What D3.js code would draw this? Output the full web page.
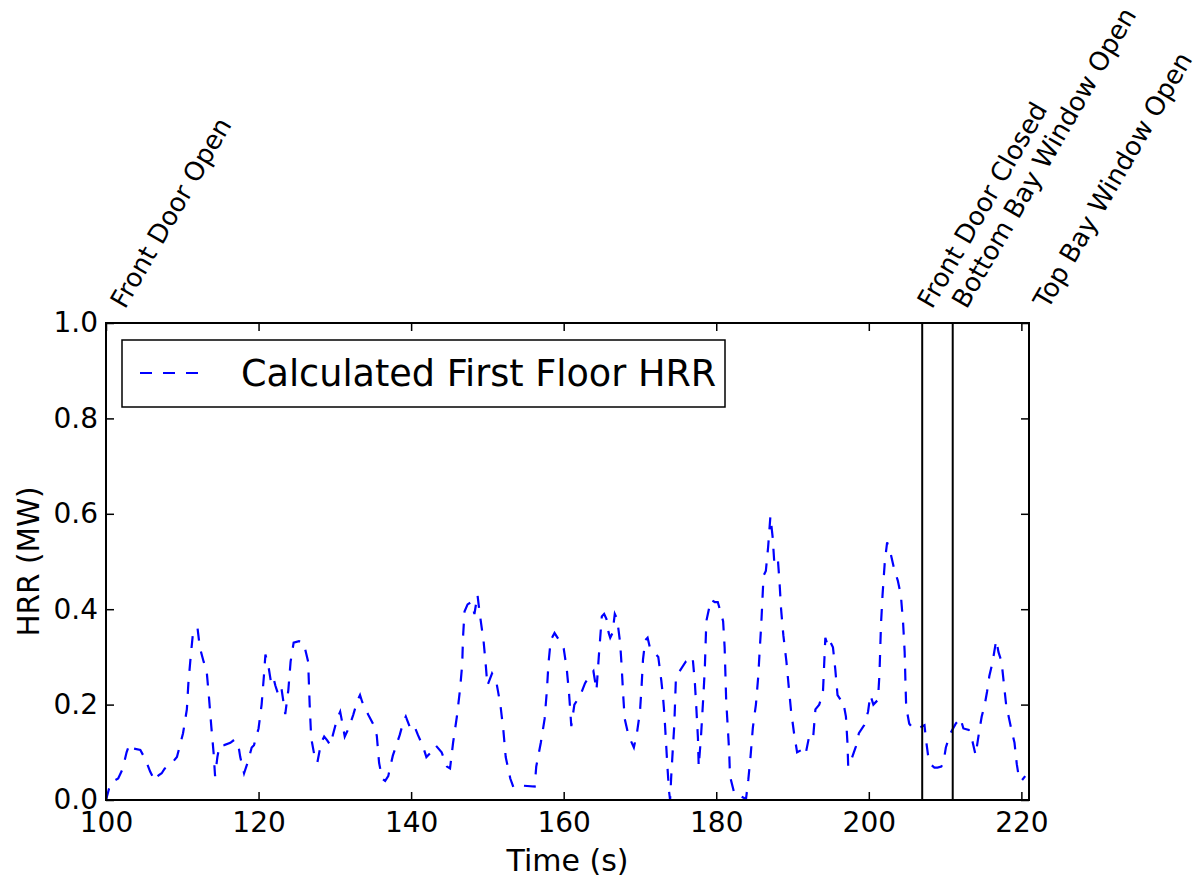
<!DOCTYPE html>
<html>
<head>
<meta charset="utf-8">
<script src="https://d3js.org/d3.v7.min.js"></script>
<style>
  html, body { margin: 0; padding: 0; background: #fff; }
  text { font-family: "DejaVu Sans", sans-serif; }
</style>
</head>
<body>
<script>
// ---------- data ----------
const timeS = [100.0,100.5,101.0,101.6,102.2,102.7,103.0,103.3,103.6,104.5,105.2,105.8,106.4,106.9,107.3,107.7,108.5,109.3,110.1,110.6,110.8,111.1,111.4,111.7,112.0,112.3,112.8,113.2,113.5,113.8,114.1,114.3,114.6,114.9,115.5,116.3,116.8,117.3,117.6,118.1,118.6,119.1,119.4,120.0,120.4,120.7,120.9,121.3,121.6,121.9,122.2,122.6,123.0,123.5,123.9,124.2,124.6,125.3,125.9,126.5,126.7,126.9,127.3,127.7,128.2,128.6,129.0,129.4,129.8,130.3,130.7,131.0,131.3,131.8,132.4,133.0,133.3,133.6,134.4,135.0,135.5,135.8,136.2,136.6,137.0,137.6,138.5,139.0,139.3,139.8,140.3,140.9,141.5,142.0,142.6,143.2,144.0,144.7,145.1,145.5,146.0,146.4,146.7,146.8,147.0,147.4,147.9,148.3,148.7,149.0,149.5,149.8,150.0,150.6,151.2,151.7,152.1,152.4,153.0,153.4,154.0,154.7,156.2,156.4,157.0,157.5,157.8,158.0,158.3,158.8,159.4,160.0,160.4,160.7,161.0,161.4,161.8,162.2,162.8,163.4,163.9,164.3,164.6,165.0,165.3,165.6,165.9,166.1,166.4,166.7,167.0,167.4,167.6,167.8,168.0,168.5,169.2,169.6,170.0,170.2,170.4,170.7,171.0,171.3,172.4,172.8,173.0,173.2,173.4,173.6,173.8,173.95,174.1,174.3,174.5,174.7,175.2,176.0,176.9,177.2,177.4,177.6,177.7,178.0,178.3,178.5,178.7,179.3,179.8,180.2,180.9,181.1,181.3,181.5,181.7,181.8,182.4,183.2,183.9,184.2,184.5,184.8,185.2,185.5,185.7,185.9,186.2,186.5,186.8,187.1,187.4,187.6,187.9,188.1,188.3,188.5,188.8,189.2,189.5,189.8,190.2,190.6,191.2,191.7,192.2,192.7,193.0,193.5,193.9,194.0,194.3,194.7,195.0,195.3,195.6,195.9,196.3,196.6,197.0,197.2,197.3,197.6,198.3,198.7,199.4,199.9,200.2,200.6,201.2,201.4,201.6,201.8,202.1,202.4,202.9,203.3,203.8,204.2,204.5,204.7,204.8,204.9,205.3,205.8,206.4,207.3,207.5,207.8,208.1,208.6,209.0,209.5,209.8,210.1,210.7,211.4,212.0,212.4,213.1,213.6,214.0,214.5,214.8,215.2,215.5,215.8,216.2,216.7,217.0,217.4,218.0,218.4,218.7,219.1,219.4,219.7,220.0,220.5];
const hrrMW = [0.00,0.03,0.04,0.045,0.066,0.10,0.114,0.105,0.108,0.105,0.084,0.059,0.04,0.052,0.056,0.066,0.075,0.09,0.14,0.19,0.245,0.30,0.35,0.36,0.36,0.32,0.29,0.27,0.215,0.155,0.10,0.05,0.09,0.115,0.115,0.12,0.126,0.12,0.09,0.056,0.08,0.11,0.115,0.15,0.20,0.26,0.305,0.28,0.25,0.26,0.24,0.22,0.234,0.18,0.23,0.29,0.33,0.333,0.33,0.29,0.20,0.13,0.095,0.078,0.12,0.133,0.125,0.115,0.14,0.17,0.185,0.16,0.133,0.15,0.178,0.21,0.22,0.205,0.178,0.16,0.135,0.078,0.045,0.04,0.05,0.093,0.136,0.165,0.175,0.154,0.16,0.136,0.115,0.09,0.10,0.115,0.10,0.07,0.066,0.12,0.175,0.23,0.285,0.34,0.395,0.41,0.415,0.39,0.43,0.39,0.333,0.28,0.24,0.265,0.245,0.20,0.145,0.09,0.045,0.027,0.03,0.03,0.028,0.07,0.12,0.17,0.23,0.285,0.335,0.35,0.335,0.318,0.275,0.224,0.155,0.20,0.21,0.22,0.245,0.26,0.27,0.23,0.30,0.385,0.39,0.38,0.35,0.34,0.35,0.39,0.38,0.33,0.28,0.22,0.17,0.135,0.11,0.14,0.185,0.235,0.295,0.335,0.34,0.32,0.30,0.25,0.22,0.18,0.125,0.07,0.02,0.0,0.05,0.105,0.157,0.25,0.27,0.29,0.30,0.245,0.19,0.13,0.07,0.133,0.215,0.275,0.375,0.42,0.415,0.415,0.375,0.32,0.21,0.155,0.10,0.05,0.012,0.008,0.002,0.042,0.092,0.152,0.20,0.258,0.315,0.368,0.47,0.48,0.53,0.595,0.55,0.50,0.51,0.50,0.455,0.40,0.345,0.29,0.238,0.188,0.14,0.10,0.105,0.095,0.135,0.13,0.19,0.20,0.22,0.23,0.34,0.32,0.33,0.32,0.275,0.22,0.21,0.21,0.175,0.12,0.07,0.08,0.112,0.14,0.157,0.185,0.22,0.20,0.21,0.265,0.37,0.43,0.50,0.54,0.514,0.486,0.46,0.43,0.37,0.31,0.25,0.195,0.16,0.15,0.15,0.157,0.126,0.09,0.075,0.068,0.068,0.07,0.08,0.11,0.14,0.16,0.172,0.15,0.147,0.122,0.094,0.147,0.175,0.20,0.227,0.26,0.287,0.335,0.31,0.29,0.20,0.17,0.147,0.12,0.075,0.045,0.04,0.05];

const eventNames = ["Front Door Open", "Front Door Closed", "Bottom Bay Window Open", "Top Bay Window Open"];
const eventTimes = [100, 207, 211, 221];
const eventLabelTimes = [100, 205.8, 210.3, 221];

const xTicks = [100, 120, 140, 160, 180, 200, 220];
const yTicks = [0.0, 0.2, 0.4, 0.6, 0.8, 1.0];
const xDomain = [100, 221];
const yDomain = [0, 1];
const seriesName = "Calculated First Floor HRR";
const xLabel = "Time (s)";
const yLabel = "HRR (MW)";

// ---------- layout ----------
const W = 1203, H = 882;
const L = 106, R = 1029, T = 323, B = 800;
const FS = 28;

const svg = d3.select("body").append("svg").attr("width", W).attr("height", H);

const x = d3.scaleLinear().domain(xDomain).range([L, R]);
const y = d3.scaleLinear().domain(yDomain).range([B, T]);

svg.append("defs").append("clipPath").attr("id", "plotclip")
  .append("rect").attr("x", L).attr("y", T).attr("width", R - L).attr("height", B - T);

// data line
const pts = timeS.map((t, i) => [t, hrrMW[i]]);
svg.append("path")
  .datum(pts)
  .attr("clip-path", "url(#plotclip)")
  .attr("fill", "none")
  .attr("stroke", "#0000ff")
  .attr("stroke-width", 2.2)
  .attr("stroke-dasharray", "12,11")
  .attr("d", d3.line().x(d => x(d[0])).y(d => y(d[1])));

// event lines
svg.append("g").attr("clip-path", "url(#plotclip)")
  .selectAll("line").data(eventTimes).join("line")
  .attr("x1", d => x(d)).attr("x2", d => x(d))
  .attr("y1", y(yDomain[0])).attr("y2", y(yDomain[1]))
  .attr("stroke", "#000").attr("stroke-width", 2);

// event labels
svg.append("g").selectAll("text").data(eventNames).join("text")
  .attr("transform", (d, i) => `translate(${x(eventLabelTimes[i]) + 19},${T - 13}) rotate(-60)`)
  .attr("font-size", 26)
  .attr("fill", "#000")
  .text(d => d);

// axes
function styleAxis(g, showText) {
  g.select(".domain").remove();
  g.selectAll(".tick line").attr("stroke", "#000").attr("stroke-width", 1.5);
  g.selectAll(".tick text").attr("font-size", FS).attr("fill", "#000")
    .attr("font-family", "DejaVu Sans");
  if (!showText) g.selectAll(".tick text").remove();
}
svg.append("g").attr("transform", `translate(0,${B})`)
  .call(d3.axisBottom(x).tickValues(xTicks).tickSize(-8).tickPadding(12).tickFormat(d3.format("d")))
  .call(g => styleAxis(g, true));
svg.append("g").attr("transform", `translate(0,${T})`)
  .call(d3.axisTop(x).tickValues(xTicks).tickSize(-8))
  .call(g => styleAxis(g, false));
svg.append("g").attr("transform", `translate(${L},0)`)
  .call(d3.axisLeft(y).tickValues(yTicks).tickSize(-8).tickPadding(8).tickFormat(d3.format(".1f")))
  .call(g => styleAxis(g, true));
svg.append("g").attr("transform", `translate(${R},0)`)
  .call(d3.axisRight(y).tickValues(yTicks).tickSize(-8))
  .call(g => styleAxis(g, false));

// frame
svg.append("rect").attr("x", L).attr("y", T).attr("width", R - L).attr("height", B - T)
  .attr("fill", "none").attr("stroke", "#000").attr("stroke-width", 2);

// axis labels
svg.append("text").attr("x", (L + R) / 2).attr("y", 871).attr("text-anchor", "middle")
  .attr("font-size", 30).attr("fill", "#000").text(xLabel);
svg.append("text").attr("transform", `translate(39,${(T + B) / 2}) rotate(-90)`)
  .attr("text-anchor", "middle").attr("font-size", 29.5).attr("fill", "#000").text(yLabel);

// legend
const lg = svg.append("g");
lg.append("rect").attr("x", 122).attr("y", 340).attr("width", 603).attr("height", 67)
  .attr("fill", "#fff").attr("stroke", "#000").attr("stroke-width", 1.5);
lg.append("line").attr("x1", 140).attr("x2", 207).attr("y1", 373).attr("y2", 373)
  .attr("stroke", "#0000ff").attr("stroke-width", 2.2).attr("stroke-dasharray", "12,11");
lg.append("text").attr("x", 241).attr("y", 386).attr("font-size", 36.6).attr("fill", "#000")
  .text(seriesName);
</script>
</body>
</html>
